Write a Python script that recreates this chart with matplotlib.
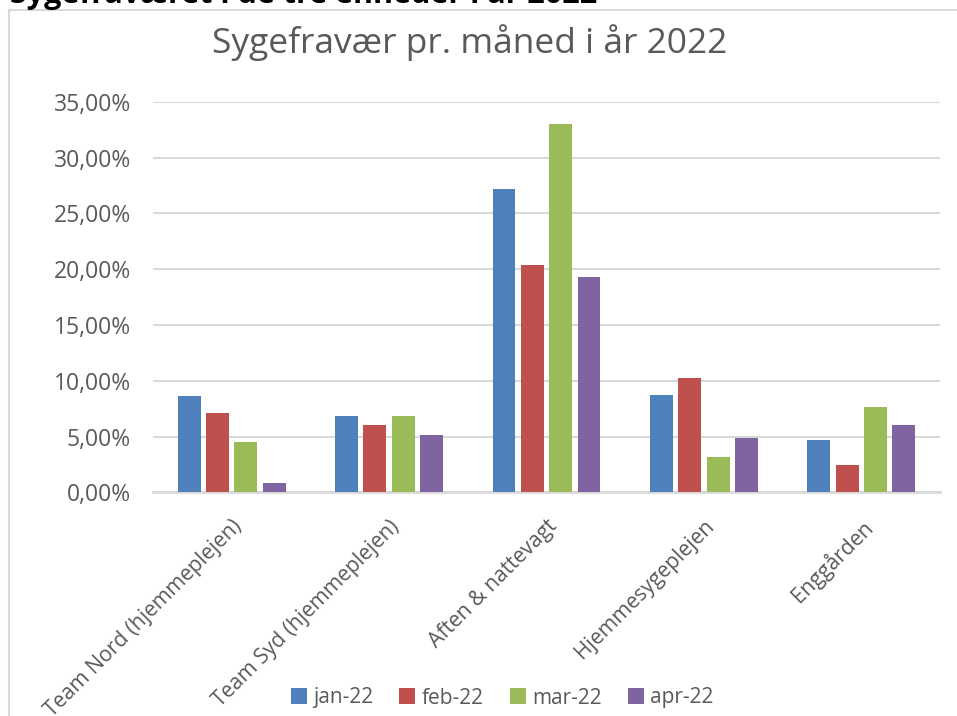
import numpy as np
import matplotlib
matplotlib.use("Agg")
import matplotlib.pyplot as plt
from matplotlib.patches import Rectangle

plt.rcParams['font.family'] = ['Open Sans', 'DejaVu Sans']

# data (fractions)
units = ["Team Nord (hjemmeplejen)", "Team Syd (hjemmeplejen)", "Aften & nattevagt",
         "Hjemmesygeplejen", "Enggården"]
months = ["jan-22", "feb-22", "mar-22", "apr-22"]
jan = [0.0863, 0.0684, 0.2718, 0.0872, 0.0469]
feb = [0.0711, 0.0603, 0.2037, 0.1024, 0.0245]
mar = [0.0451, 0.0684, 0.3300, 0.0316, 0.0765]
apr = [0.0083, 0.0513, 0.1929, 0.0487, 0.0603]
yticks = [0, 0.05, 0.10, 0.15, 0.20, 0.25, 0.30, 0.35]

colors = ["#4F81BD", "#C0504D", "#9BBB59", "#8064A2"]
txt = "#595959"
W, H = 957, 716

fig = plt.figure(figsize=(W / 100, H / 100), dpi=100)
# chart area frame (runs off the right / bottom edge)
fig.patches.append(Rectangle((9 / W, -0.1), 1.2, 1 - 10 / H + 0.1, transform=fig.transFigure,
                             fill=False, edgecolor="#d9d9d9", linewidth=1.5))
# heading above the chart, cut off by the top edge like in the screenshot
fig.text(10 / W, 1 - 3 / H, "Sygefraværet i de tre enheder i år 2022", fontsize=22,
         fontweight="bold", color="black", ha="left", va="baseline")
fig.text(469.5 / W, 1 - 53 / H, "Sygefravær pr. måned i år 2022", fontsize=25.5,
         color=txt, ha="center", va="baseline")

ax = fig.add_axes([153 / W, 1 - 492.3 / H, (940 - 153) / W, (492.3 - 101.7) / H])

x = np.arange(len(units))
bw = 0.146
step = 0.18
for i, (vals, lab) in enumerate(zip([jan, feb, mar, apr], months)):
    ax.bar(x + (i - 1.5) * step, vals, bw, color=colors[i], label=lab, zorder=3)

ax.set_xlim(-0.5, len(units) - 0.5)
ax.set_ylim(0, 0.35)
ax.set_yticks(yticks)
ax.set_yticklabels([("%.2f%%" % (v * 100)).replace(".", ",") for v in yticks],
                   fontsize=16.5, color=txt)
ax.yaxis.grid(True, color="#d9d9d9", linewidth=1.5, zorder=0)
ax.tick_params(axis="y", length=0, pad=16)
ax.tick_params(axis="x", length=0, pad=17)
ax.set_xticks(x)
ax.set_xticklabels(units, rotation=45, ha="right", rotation_mode="anchor",
                   fontsize=15.2, color=txt)
for s in ["left", "right", "top"]:
    ax.spines[s].set_visible(False)
ax.spines["bottom"].set_color("#d9d9d9")
ax.spines["bottom"].set_linewidth(2)

fig.legend(loc="center", bbox_to_anchor=(502 / W, 1 - 698 / H), ncol=4, frameon=False,
           fontsize=15, labelcolor=txt, handlelength=0.77, handleheight=0.77,
           handletextpad=0.3, columnspacing=1.25)

fig.savefig("out.png", dpi=100)
